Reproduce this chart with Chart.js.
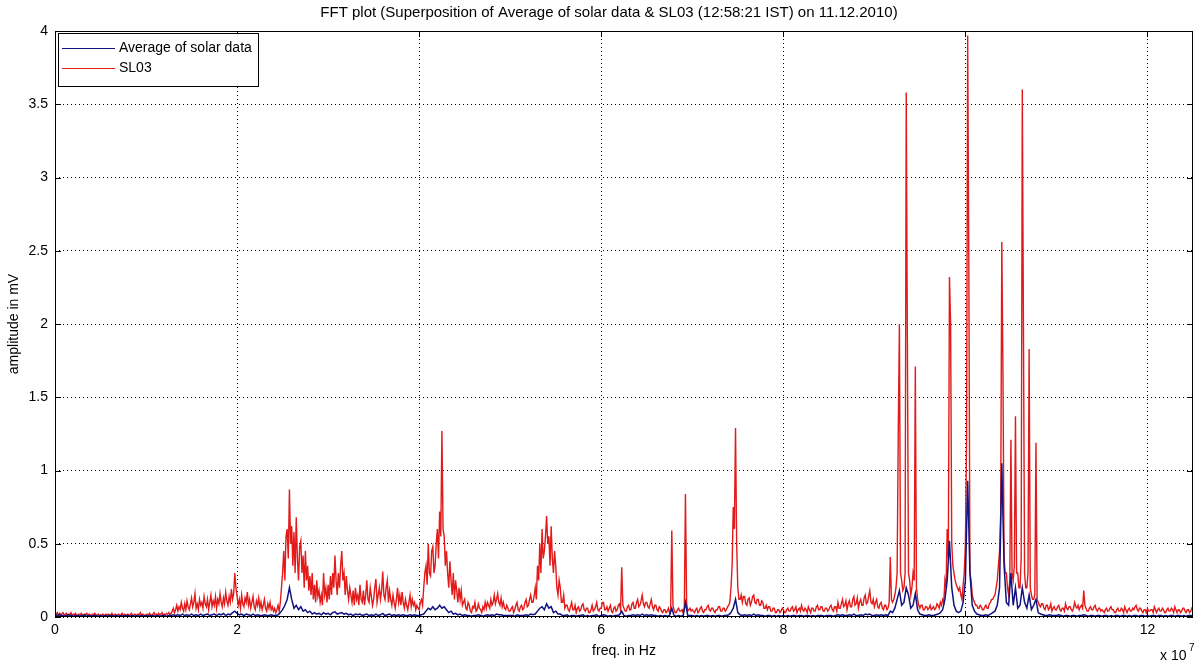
<!DOCTYPE html>
<html>
<head>
<meta charset="utf-8">
<script src="https://cdn.jsdelivr.net/npm/chart.js@4.4.1/dist/chart.umd.min.js"></script>
<style>
  body { margin: 0; background: #fff; }
  #wrap { width: 1198px; height: 664px; }
</style>
</head>
<body>
<div id="wrap"><canvas id="fftChart" width="1198" height="664"></canvas></div>
<script>
// each row spans 0.5 (x 1e7 Hz) of the spectrum
const rowSpan = 0.5;

// SL03 amplitude in mV, 40 bins per row (bin = 0.0125e7 Hz)
const sl03Rows = [
  [0.035,0.02,0.03,0.01,0.025,0.015,0.02,0.03,0.01,0.02,0.025,0.01,0.02,0.015,0.03,0.01,0.02,0.015,0.025,0.01,0.015,0.02,0.01,0.025,0.015,0.01,0.02,0.015,0.025,0.01,0.02,0.015,0.01,0.02,0.015,0.025,0.01,0.015,0.02,0.01],
  [0.015,0.01,0.02,0.01,0.015,0.02,0.01,0.02,0.015,0.01,0.025,0.01,0.015,0.02,0.01,0.015,0.02,0.01,0.015,0.025,0.01,0.02,0.015,0.01,0.02,0.015,0.01,0.025,0.015,0.01,0.02,0.015,0.01,0.02,0.015,0.03,0.01,0.02,0.015,0.01],
  [0.015,0.02,0.01,0.025,0.015,0.01,0.02,0.03,0.015,0.02,0.01,0.025,0.015,0.02,0.03,0.01,0.02,0.015,0.025,0.02,0.03,0.015,0.025,0.04,0.06,0.03,0.05,0.08,0.04,0.07,0.05,0.1,0.06,0.04,0.09,0.05,0.11,0.07,0.05,0.09],
  [0.13,0.07,0.1,0.16,0.06,0.09,0.05,0.12,0.08,0.1,0.06,0.14,0.09,0.07,0.12,0.05,0.1,0.15,0.07,0.11,0.08,0.14,0.06,0.12,0.09,0.16,0.1,0.07,0.13,0.09,0.17,0.11,0.08,0.14,0.1,0.19,0.12,0.16,0.3,0.2],
  [0.14,0.08,0.12,0.06,0.15,0.09,0.07,0.13,0.1,0.17,0.08,0.12,0.06,0.1,0.14,0.07,0.05,0.11,0.08,0.13,0.06,0.1,0.05,0.08,0.12,0.06,0.04,0.09,0.06,0.1,0.05,0.07,0.04,0.06,0.03,0.05,0.08,0.04,0.1,0.2],
  [0.3,0.45,0.25,0.55,0.6,0.4,0.87,0.5,0.62,0.35,0.58,0.3,0.68,0.4,0.25,0.48,0.52,0.3,0.42,0.2,0.45,0.25,0.35,0.18,0.28,0.15,0.3,0.12,0.22,0.1,0.25,0.14,0.18,0.1,0.15,0.08,0.3,0.15,0.2,0.1],
  [0.22,0.12,0.28,0.15,0.3,0.2,0.42,0.25,0.15,0.3,0.2,0.35,0.45,0.25,0.3,0.15,0.28,0.18,0.12,0.2,0.15,0.1,0.18,0.08,0.2,0.12,0.15,0.08,0.22,0.12,0.1,0.18,0.08,0.15,0.25,0.12,0.1,0.2,0.14,0.08],
  [0.12,0.2,0.26,0.1,0.15,0.2,0.12,0.18,0.31,0.15,0.12,0.2,0.25,0.1,0.18,0.12,0.08,0.15,0.1,0.06,0.12,0.2,0.1,0.15,0.08,0.17,0.1,0.06,0.12,0.08,0.05,0.1,0.15,0.07,0.12,0.08,0.1,0.05,0.08,0.06],
  [0.05,0.1,0.12,0.08,0.2,0.3,0.35,0.22,0.5,0.3,0.28,0.45,0.48,0.3,0.35,0.5,0.6,0.4,0.72,0.55,1.27,0.6,0.55,0.35,0.45,0.3,0.2,0.38,0.25,0.15,0.3,0.12,0.25,0.18,0.1,0.2,0.12,0.18,0.08,0.1],
  [0.12,0.06,0.05,0.1,0.08,0.04,0.03,0.07,0.06,0.1,0.04,0.05,0.09,0.06,0.05,0.03,0.07,0.05,0.1,0.06,0.1,0.08,0.06,0.12,0.08,0.1,0.15,0.09,0.12,0.16,0.1,0.08,0.13,0.07,0.1,0.06,0.05,0.08,0.06,0.04],
  [0.04,0.06,0.07,0.03,0.05,0.08,0.1,0.05,0.04,0.07,0.08,0.05,0.06,0.1,0.12,0.07,0.08,0.12,0.15,0.1,0.1,0.14,0.2,0.12,0.35,0.25,0.5,0.3,0.6,0.4,0.45,0.55,0.69,0.5,0.55,0.35,0.62,0.4,0.3,0.45],
  [0.35,0.2,0.15,0.25,0.2,0.1,0.1,0.15,0.06,0.08,0.08,0.05,0.04,0.07,0.1,0.05,0.05,0.08,0.03,0.06,0.07,0.04,0.05,0.08,0.09,0.05,0.04,0.06,0.06,0.03,0.03,0.05,0.08,0.04,0.05,0.07,0.1,0.05,0.04,0.06],
  [0.06,0.1,0.1,0.05,0.05,0.07,0.04,0.06,0.08,0.04,0.03,0.06,0.07,0.04,0.05,0.08,0.09,0.05,0.34,0.08,0.06,0.04,0.04,0.07,0.08,0.05,0.05,0.09,0.1,0.06,0.06,0.1,0.12,0.07,0.08,0.11,0.15,0.09,0.07,0.1],
  [0.1,0.07,0.06,0.09,0.12,0.07,0.05,0.08,0.08,0.05,0.04,0.07,0.06,0.04,0.03,0.05,0.05,0.03,0.04,0.06,0.03,0.05,0.59,0.08,0.05,0.03,0.03,0.05,0.06,0.04,0.04,0.05,0.03,0.06,0.84,0.1,0.04,0.05,0.06,0.04],
  [0.05,0.04,0.03,0.05,0.06,0.03,0.04,0.06,0.07,0.04,0.03,0.05,0.05,0.07,0.08,0.05,0.04,0.06,0.06,0.04,0.03,0.05,0.05,0.07,0.07,0.04,0.04,0.06,0.06,0.04,0.05,0.07,0.08,0.1,0.2,0.35,0.75,0.6,1.29,0.5],
  [0.2,0.12,0.12,0.15,0.1,0.14,0.14,0.09,0.08,0.12,0.13,0.08,0.1,0.14,0.15,0.1,0.09,0.12,0.12,0.08,0.08,0.11,0.1,0.06,0.06,0.08,0.05,0.07,0.07,0.04,0.04,0.06,0.06,0.03,0.03,0.05,0.05,0.03,0.04,0.06],
  [0.05,0.03,0.03,0.05,0.06,0.04,0.04,0.06,0.07,0.04,0.05,0.07,0.03,0.05,0.06,0.04,0.08,0.05,0.04,0.06,0.05,0.03,0.07,0.05,0.03,0.06,0.06,0.04,0.04,0.07,0.08,0.05,0.05,0.07,0.07,0.04,0.04,0.06,0.06,0.04],
  [0.05,0.07,0.08,0.05,0.04,0.07,0.07,0.04,0.1,0.06,0.06,0.09,0.12,0.07,0.08,0.11,0.05,0.09,0.11,0.07,0.07,0.12,0.14,0.08,0.09,0.13,0.06,0.1,0.12,0.08,0.08,0.13,0.15,0.09,0.1,0.14,0.18,0.1,0.09,0.12],
  [0.07,0.1,0.12,0.07,0.06,0.09,0.1,0.06,0.05,0.08,0.08,0.05,0.06,0.1,0.41,0.12,0.1,0.12,0.15,0.2,0.3,1.25,2.0,0.3,0.25,0.18,0.2,0.3,3.58,1.9,0.3,0.25,0.15,0.2,0.3,0.25,1.71,0.2,0.12,0.08],
  [0.06,0.08,0.08,0.05,0.05,0.07,0.07,0.05,0.06,0.08,0.05,0.06,0.07,0.05,0.06,0.09,0.08,0.06,0.1,0.08,0.12,0.1,0.25,0.2,0.6,0.4,2.32,2.0,0.5,0.35,0.3,0.25,0.22,0.2,0.18,0.2,0.15,0.12,0.22,0.3],
  [0.5,1.2,3.97,2.4,0.3,0.25,0.15,0.12,0.1,0.08,0.08,0.06,0.06,0.08,0.07,0.05,0.05,0.07,0.08,0.06,0.06,0.09,0.1,0.12,0.12,0.14,0.15,0.2,0.25,0.35,0.45,0.7,2.56,1.67,0.4,0.3,0.3,0.2,0.15,0.25],
  [1.21,0.3,0.25,0.35,1.37,0.3,0.3,0.2,0.2,0.4,3.6,1.98,0.3,0.2,0.2,0.3,1.83,0.2,0.15,0.12,0.12,0.15,1.19,0.12,0.1,0.08,0.07,0.09,0.09,0.06,0.05,0.08,0.08,0.05,0.06,0.09,0.04,0.06,0.07,0.05],
  [0.05,0.07,0.08,0.05,0.04,0.06,0.06,0.04,0.09,0.06,0.05,0.07,0.07,0.05,0.04,0.06,0.1,0.07,0.06,0.08,0.05,0.07,0.08,0.06,0.18,0.08,0.06,0.04,0.04,0.06,0.07,0.05,0.05,0.07,0.08,0.05,0.04,0.06,0.06,0.04],
  [0.05,0.04,0.03,0.05,0.06,0.04,0.04,0.06,0.07,0.05,0.05,0.03,0.03,0.05,0.06,0.04,0.04,0.06,0.05,0.03,0.07,0.05,0.03,0.05,0.06,0.04,0.04,0.06,0.05,0.07,0.08,0.05,0.04,0.06,0.06,0.04,0.03,0.05,0.05,0.03],
  [0.06,0.04,0.04,0.05,0.05,0.03,0.07,0.05,0.03,0.05,0.06,0.04,0.04,0.06,0.05,0.03,0.03,0.05,0.06,0.04,0.04,0.06,0.05,0.03,0.07,0.05,0.03,0.05,0.05,0.03,0.04,0.06,0.06,0.04,0.03,0.05,0.05,0.03,0.04,0.06,0.05]
];

// average of solar data in mV, 20 bins per row (bin = 0.025e7 Hz)
const solarAvgRows = [
  [0.02,0.01,0.015,0.01,0.005,0.01,0.015,0.01,0.005,0.01,0.01,0.005,0.01,0.015,0.005,0.01,0.005,0.01,0.01,0.005],
  [0.01,0.005,0.01,0.005,0.01,0.01,0.005,0.01,0.005,0.01,0.005,0.01,0.01,0.005,0.01,0.005,0.01,0.005,0.01,0.005],
  [0.01,0.005,0.01,0.01,0.005,0.01,0.005,0.01,0.01,0.005,0.01,0.01,0.015,0.01,0.015,0.01,0.02,0.01,0.015,0.01],
  [0.02,0.01,0.015,0.01,0.02,0.01,0.015,0.02,0.01,0.015,0.02,0.01,0.02,0.015,0.025,0.01,0.02,0.015,0.03,0.04],
  [0.025,0.015,0.02,0.01,0.02,0.015,0.01,0.02,0.01,0.015,0.01,0.01,0.015,0.01,0.01,0.015,0.01,0.01,0.015,0.03],
  [0.05,0.08,0.12,0.2,0.12,0.06,0.08,0.05,0.07,0.04,0.05,0.03,0.04,0.02,0.03,0.02,0.025,0.015,0.03,0.02],
  [0.025,0.015,0.03,0.035,0.02,0.025,0.03,0.02,0.025,0.015,0.02,0.01,0.02,0.015,0.02,0.01,0.015,0.02,0.01,0.015],
  [0.01,0.02,0.01,0.015,0.025,0.01,0.015,0.02,0.01,0.015,0.01,0.015,0.01,0.015,0.01,0.01,0.015,0.01,0.015,0.01],
  [0.01,0.015,0.02,0.04,0.06,0.05,0.07,0.05,0.06,0.08,0.06,0.07,0.05,0.03,0.04,0.02,0.025,0.015,0.02,0.01],
  [0.015,0.01,0.01,0.005,0.01,0.01,0.015,0.01,0.005,0.01,0.015,0.01,0.015,0.01,0.02,0.015,0.015,0.01,0.01,0.01],
  [0.01,0.01,0.005,0.015,0.01,0.01,0.01,0.015,0.01,0.02,0.015,0.02,0.04,0.06,0.07,0.05,0.09,0.06,0.07,0.03],
  [0.04,0.02,0.02,0.01,0.01,0.015,0.005,0.01,0.01,0.005,0.01,0.01,0.015,0.005,0.01,0.005,0.01,0.01,0.015,0.005],
  [0.01,0.015,0.01,0.005,0.01,0.005,0.01,0.01,0.015,0.04,0.01,0.005,0.01,0.01,0.015,0.01,0.015,0.01,0.02,0.01],
  [0.015,0.01,0.015,0.01,0.01,0.005,0.01,0.005,0.01,0.005,0.01,0.06,0.01,0.005,0.01,0.005,0.01,0.1,0.01,0.01],
  [0.01,0.005,0.01,0.005,0.01,0.005,0.01,0.01,0.005,0.01,0.005,0.01,0.01,0.005,0.01,0.01,0.015,0.03,0.06,0.12],
  [0.03,0.015,0.01,0.015,0.01,0.015,0.01,0.02,0.01,0.015,0.01,0.01,0.005,0.01,0.01,0.005,0.01,0.005,0.01,0.005],
  [0.01,0.005,0.01,0.005,0.01,0.01,0.005,0.01,0.01,0.005,0.01,0.01,0.005,0.01,0.005,0.01,0.01,0.01,0.005,0.01],
  [0.01,0.01,0.005,0.01,0.015,0.01,0.015,0.01,0.01,0.015,0.01,0.02,0.01,0.01,0.015,0.01,0.02,0.015,0.02,0.01],
  [0.01,0.015,0.01,0.015,0.01,0.015,0.01,0.04,0.03,0.06,0.12,0.18,0.08,0.1,0.2,0.15,0.06,0.08,0.16,0.05],
  [0.02,0.015,0.01,0.01,0.015,0.01,0.01,0.015,0.02,0.03,0.05,0.12,0.25,0.52,0.2,0.08,0.04,0.03,0.04,0.1],
  [0.25,0.93,0.3,0.08,0.04,0.02,0.015,0.01,0.01,0.015,0.01,0.02,0.03,0.04,0.08,0.2,1.05,0.35,0.1,0.08],
  [0.3,0.08,0.2,0.06,0.08,0.2,0.1,0.06,0.15,0.05,0.08,0.12,0.03,0.02,0.015,0.01,0.01,0.015,0.01,0.01],
  [0.01,0.015,0.01,0.005,0.01,0.01,0.005,0.01,0.01,0.005,0.01,0.01,0.015,0.01,0.005,0.01,0.01,0.005,0.01,0.01],
  [0.005,0.01,0.01,0.005,0.01,0.005,0.01,0.01,0.005,0.01,0.01,0.005,0.01,0.005,0.01,0.01,0.005,0.01,0.01,0.005],
  [0.01,0.005,0.01,0.01,0.005,0.01,0.01,0.005,0.01,0.005,0.01,0.01,0.005,0.01,0.01,0.005,0.01,0.005,0.01,0.01,0.01]
];

const seriesNames = ['Average of solar data', 'SL03'];
const seriesColors = ['rgb(18,18,128)', 'rgb(226,26,26)'];
const xTicks = [0, 2, 4, 6, 8, 10, 12];
const yTicks = [0, 0.5, 1, 1.5, 2, 2.5, 3, 3.5, 4];
const titleText = 'FFT plot (Superposition of Average of solar data & SL03 (12:58:21 IST) on 11.12.2010)';

// rows -> {x, y} points, x in units of 1e7 Hz
function rowsToPoints(rows, binsPerRow) {
  const step = rowSpan / binsPerRow;
  const pts = [];
  rows.forEach((row, r) => {
    row.forEach((v, j) => pts.push({ x: r * rowSpan + j * step, y: v }));
  });
  return pts;
}

const FONT = 'Liberation Sans, Arial, sans-serif';

// box, inward ticks, title, legend and the x10^7 multiplier, MATLAB style
const matlabFrame = {
  id: 'matlabFrame',
  afterDraw(chart) {
    const { ctx, chartArea: a, scales: { x, y } } = chart;
    ctx.save();
    ctx.strokeStyle = '#000';
    ctx.lineWidth = 1;
    ctx.strokeRect(a.left + 0.5, a.top + 0.5, a.right - a.left - 1, a.bottom - a.top - 1);
    ctx.beginPath();
    xTicks.forEach(v => {
      const px = Math.round(x.getPixelForValue(v)) + 0.5;
      ctx.moveTo(px, a.bottom); ctx.lineTo(px, a.bottom - 6);
      ctx.moveTo(px, a.top); ctx.lineTo(px, a.top + 6);
    });
    yTicks.forEach(v => {
      const py = Math.round(y.getPixelForValue(v)) + 0.5;
      ctx.moveTo(a.left, py); ctx.lineTo(a.left + 6, py);
      ctx.moveTo(a.right, py); ctx.lineTo(a.right - 6, py);
    });
    ctx.stroke();

    ctx.fillStyle = '#000';
    ctx.font = '15px ' + FONT;
    ctx.textAlign = 'center';
    ctx.textBaseline = 'middle';
    ctx.fillText(titleText, 609, 13);

    // exponent label under the right end of the x axis
    ctx.textAlign = 'left';
    ctx.font = '14px ' + FONT;
    ctx.fillText('x 10', 1160, 656);
    ctx.font = '10px ' + FONT;
    ctx.fillText('7', 1189, 648);

    // legend box
    const lx = a.left + 3, ly = a.top + 2, lw = 200, lh = 53;
    ctx.fillStyle = '#fff';
    ctx.fillRect(lx, ly, lw, lh);
    ctx.strokeRect(lx + 0.5, ly + 0.5, lw, lh);
    ctx.font = '14px ' + FONT;
    seriesNames.forEach((name, i) => {
      const rowY = ly + 15 + i * 20;
      ctx.strokeStyle = seriesColors[i];
      ctx.beginPath();
      ctx.moveTo(lx + 4, rowY + 0.5); ctx.lineTo(lx + 57, rowY + 0.5);
      ctx.stroke();
      ctx.fillStyle = '#000';
      ctx.fillText(name, lx + 61, rowY);
    });
    ctx.restore();
  }
};

const tickFont = { family: FONT, size: 14 };

new Chart(document.getElementById('fftChart'), {
  type: 'line',
  data: {
    datasets: [
      { label: seriesNames[1], data: rowsToPoints(sl03Rows, 40), borderColor: seriesColors[1], borderWidth: 1.4, order: 2 },
      { label: seriesNames[0], data: rowsToPoints(solarAvgRows, 20), borderColor: seriesColors[0], borderWidth: 1.5, order: 1 }
    ]
  },
  options: {
    responsive: false,
    animation: false,
    events: [],
    layout: { padding: { top: 31, right: 5, left: 0, bottom: 0 } },
    elements: { point: { radius: 0 }, line: { tension: 0 } },
    plugins: { legend: { display: false }, tooltip: { enabled: false }, title: { display: false } },
    scales: {
      x: {
        type: 'linear',
        min: 0,
        max: 12.5,
        afterFit: s => { s.height = 47; },
        afterBuildTicks: s => { s.ticks = xTicks.map(v => ({ value: v })); },
        ticks: { color: '#000', font: tickFont, padding: 5, callback: v => String(v) },
        grid: { color: '#000', lineWidth: 1, drawTicks: false },
        border: { display: false, dash: [1, 3] },
        title: { display: true, text: 'freq. in Hz', color: '#000', font: tickFont, padding: { top: 7 } }
      },
      y: {
        min: 0,
        max: 4,
        afterFit: s => { s.width = 55; },
        afterBuildTicks: s => { s.ticks = yTicks.map(v => ({ value: v })); },
        ticks: { color: '#000', font: tickFont, padding: 7, callback: v => String(v) },
        grid: { color: '#000', lineWidth: 1, drawTicks: false },
        border: { display: false, dash: [1, 3] },
        title: { display: true, text: 'amplitude in mV', color: '#000', font: tickFont, padding: { top: 6 } }
      }
    }
  },
  plugins: [matlabFrame]
});
</script>
</body>
</html>
